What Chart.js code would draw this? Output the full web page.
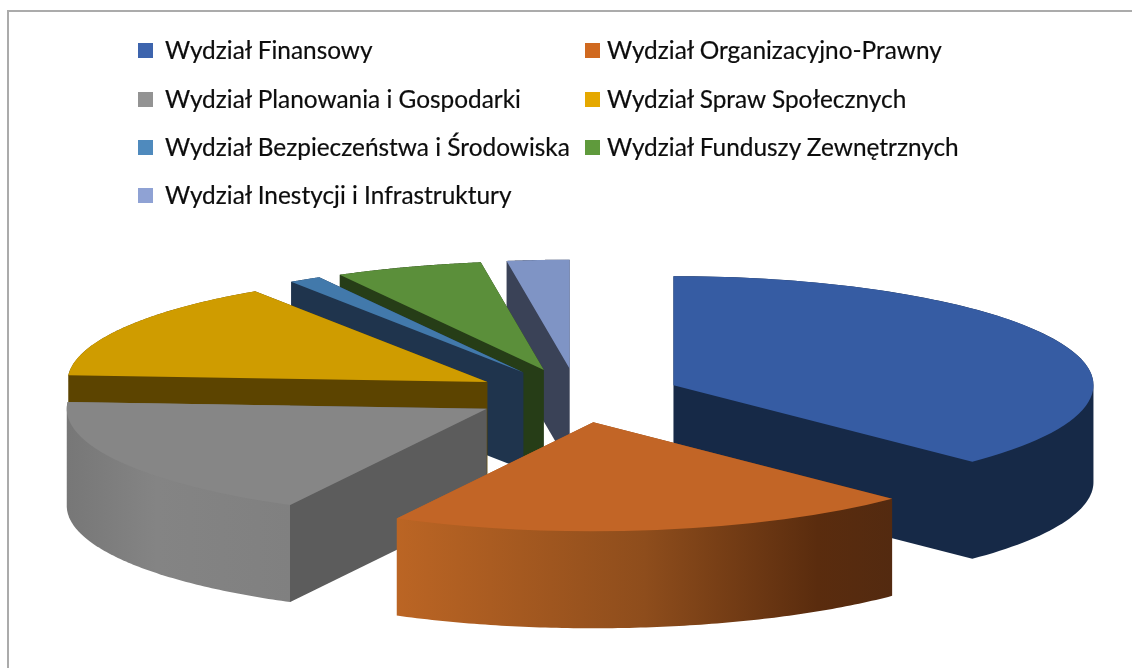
<!DOCTYPE html>
<html lang="pl">
<head>
<meta charset="utf-8">
<title>Wydziały</title>
<script src="https://cdn.jsdelivr.net/npm/chart.js@4"></script>
<style>
html,body{margin:0;padding:0;background:#fff;}
#wrap{position:relative;width:1132px;height:668px;overflow:hidden;}
#frame{position:absolute;left:7px;top:10px;width:1140px;height:680px;border:2px solid #ababab;box-sizing:border-box;pointer-events:none;}
#c{position:absolute;left:0;top:0;}
.sw{position:absolute;width:15px;height:15px;}
.tx{position:absolute;font-family:Lato,sans-serif;font-size:24.4px;line-height:30px;color:#0d0d0d;white-space:nowrap;-webkit-text-stroke:0.2px #0d0d0d;}
</style>
</head>
<body>
<div id="wrap">
<div id="frame"></div>
<canvas id="c" width="1132" height="668"></canvas>
</div>
<script>
const categories = ['Wydział Finansowy','Wydział Organizacyjno-Prawny','Wydział Planowania i Gospodarki','Wydział Spraw Społecznych','Wydział Bezpieczeństwa i Środowiska','Wydział Funduszy Zewnętrznych','Wydział Inestycji i Infrastruktury'];
const shares = [37.4, 20.35, 18.25, 14.67, 1.25, 5.68, 2.4];
const topColors = ['#365ca3','#c26526','#868686','#cf9c00','#4279ab','#5b8f3a','#7f94c5'];
const legendColors = ['#3d64ad','#d0691f','#939393','#e5a800','#4f8abd','#5f9a3c','#8fa2d4'];
const wallColors = ['#162947','#532a10','#5c5c5c','#5c4400','#1f344d','#263d17','#3a4257'];
const paintOrder = [6,5,4,3,2,0,1];

const view = {cx:577.5, cy:395.6, rx:420, ry:109, depth:97, explode:104/420};

// legend
const wrap = document.getElementById('wrap');
const rowsY = [50.5,99.5,147.5,195.5];
const colsX = [{s:138,t:165},{s:585,t:607}];
categories.forEach((label,i)=>{
  const col = colsX[i%2], y = rowsY[Math.floor(i/2)];
  const s = document.createElement('div'); s.className='sw';
  s.style.cssText = `left:${col.s}px;top:${y-7.5}px;background:${legendColors[i]}`;
  const t = document.createElement('div'); t.className='tx'; t.textContent = label;
  t.style.cssText = `left:${col.t}px;top:${y-16}px`;
  wrap.append(s,t);
});

// Gradients are built in the slice's own (already exploded) coordinates.
function wallFill(ctx, arc, i){
  const R = arc.outerRadius;
  const a = arc.x + Math.cos(arc.startAngle)*R, b = arc.x + Math.cos(arc.endAngle)*R;
  if(i===1){ // orange outer wall: shaded from the left corner to the right corner
    const g = ctx.createLinearGradient(b,0,a,0);
    g.addColorStop(0,'#bb6524');
    g.addColorStop(0.5,'#8e4d1c');
    g.addColorStop(0.85,'#5a2c0e');
    g.addColorStop(1,'#532a10');
    return g;
  }
  if(i===2){ // grey: outer wall, then the radial wall from the corner inward
    const left = arc.x - R, tip = arc.x;
    const g = ctx.createLinearGradient(left,0,tip,0);
    const k = (a-left)/(tip-left);
    g.addColorStop(0,'#777777'); g.addColorStop(k*0.4,'#848484');
    g.addColorStop(k,'#808080'); g.addColorStop(k,'#5c5c5c'); g.addColorStop(1,'#5c5c5c');
    return g;
  }
  return wallColors[i];
}

// Each slice spans under 180 degrees, so it is convex and its extrusion is the
// convex hull of the slice outline and the same outline moved down by the depth.
function extrusionHull(arc, drop){
  const pts = [];
  const add = (x,y)=>{ pts.push([x,y]); pts.push([x,y+drop]); };
  add(arc.x, arc.y);
  const n = 96;
  for(let s=0;s<=n;s++){
    const t = arc.startAngle + (arc.endAngle-arc.startAngle)*s/n;
    add(arc.x+Math.cos(t)*arc.outerRadius, arc.y+Math.sin(t)*arc.outerRadius);
  }
  pts.sort((p,q)=>p[0]-q[0]||p[1]-q[1]);
  const cross=(o,p,q)=>(p[0]-o[0])*(q[1]-o[1])-(p[1]-o[1])*(q[0]-o[0]);
  const half=list=>{
    const h=[];
    list.forEach(p=>{
      while(h.length>=2 && cross(h[h.length-2],h[h.length-1],p)<=0) h.pop();
      h.push(p);
    });
    h.pop();
    return h;
  };
  return half(pts).concat(half(pts.slice().reverse()));
}

const pie3d = {
  id:'pie3d',
  beforeDatasetsDraw(chart){
    const ctx = chart.ctx, arcs = chart.getDatasetMeta(0).data;
    const R = arcs[0].outerRadius;
    const sx = view.rx/R, sy = view.ry/R, e = view.explode*R;
    ctx.save();
    ctx.translate(view.cx, view.cy);
    ctx.scale(sx, sy);
    ctx.translate(-arcs[0].x, -arcs[0].y);
    paintOrder.forEach(i=>{
      const arc = arcs[i];
      const mid = (arc.startAngle+arc.endAngle)/2;
      ctx.save();
      ctx.translate(Math.cos(mid)*e, Math.sin(mid)*e);
      const hull = extrusionHull(arc, view.depth/sy);
      ctx.beginPath();
      hull.forEach((p,k)=> k ? ctx.lineTo(p[0],p[1]) : ctx.moveTo(p[0],p[1]));
      ctx.closePath();
      ctx.fillStyle = wallFill(ctx, arc, i);
      ctx.fill();
      arc.draw(ctx);
      ctx.restore();
    });
    ctx.restore();
    return false;
  }
};

new Chart(document.getElementById('c'),{
  type:'pie',
  data:{labels:categories,datasets:[{data:shares,backgroundColor:topColors,borderWidth:0}]},
  options:{
    responsive:false,animation:false,
    plugins:{legend:{display:false},tooltip:{enabled:false}},
    events:[]
  },
  plugins:[pie3d]
});
</script>
</body>
</html>
